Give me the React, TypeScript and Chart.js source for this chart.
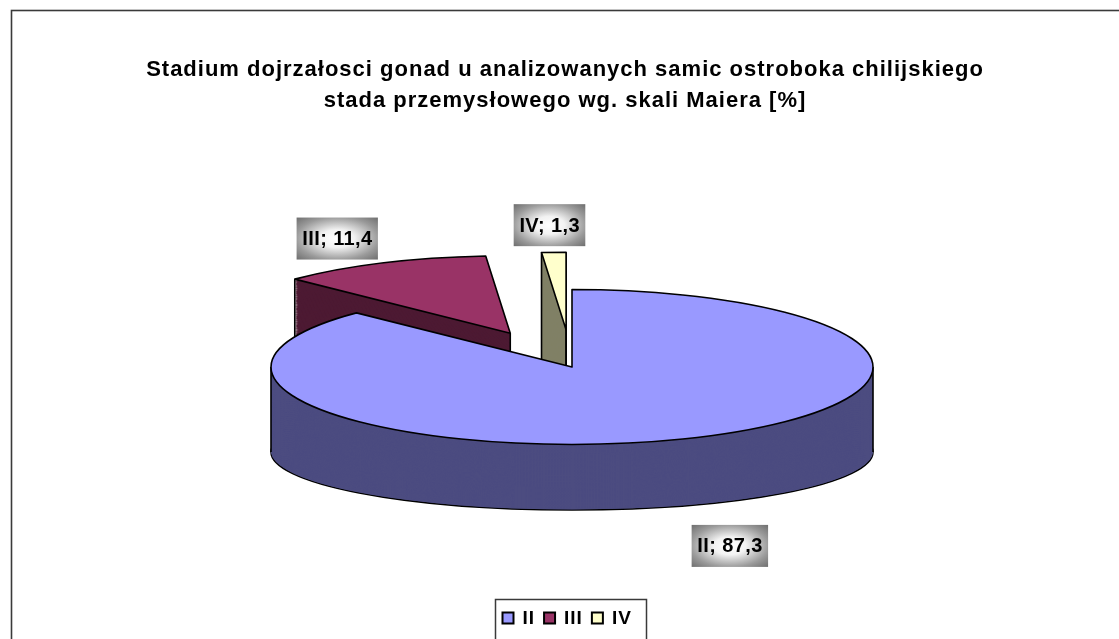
import React, { useEffect, useRef } from "react";
import { Chart, registerables } from "chart.js";

Chart.register(...registerables);

// ---- data ----
const categories = ["II", "III", "IV"];
const values = [87.3, 11.4, 1.3];
const titleLines = [
  "Stadium dojrzałosci gonad u analizowanych samic ostroboka chilijskiego",
  "stada przemysłowego wg. skali Maiera [%]",
];
const topColors = ["#9999FF", "#993366", "#FFFFCC"];
const sideColors = ["#4C4C80", "#4D1A33", "#808066"];

const FONT = "'Liberation Sans', Arial, Helvetica, sans-serif";

// ---- 3D look (view settings, not data) ----
const view = {
  cx: 572,
  cy: 367,
  ry: 77.5,
  depthShift: 85,
  ryBottom: 58,
  explode: [0, 145, 145],
  labelFactor: 1.35,
  lowerLabelExtra: 17,
  layers: 120,
};

const fmt = (v: number) => String(v).replace(".", ",");

const pie3d = {
  id: "pie3d",
  beforeDraw(chart: any) {
    (chart.ctx as any).letterSpacing = "1px";
  },
  beforeDatasetsDraw(chart: any) {
    const ctx: CanvasRenderingContext2D = chart.ctx;
    (ctx as any).letterSpacing = "0px";
    const arcs: any[] = chart.getDatasetMeta(0).data;
    const g = view;
    const r0 = arcs[0].outerRadius;
    const kTop = g.ry / r0;
    const kBot = g.ryBottom / r0;
    const lt = (t: number) => ({ cy: g.cy + g.depthShift * t, k: kTop + (kBot - kTop) * t });
    const exOff = (i: number) => {
      const a = arcs[i];
      const h = (a.startAngle + a.endAngle) / 2;
      return [Math.cos(h) * g.explode[i], Math.sin(h) * g.explode[i]];
    };
    const apply = (i: number, t: number) => {
      const { cy, k } = lt(t);
      const [ox, oy] = exOff(i);
      const a = arcs[i];
      ctx.translate(g.cx, cy);
      ctx.scale(1, k);
      ctx.translate(ox - a.x, oy - a.y);
    };
    const drawGhost = (i: number, t: number, color: string) => {
      const a = arcs[i];
      const ghost = Object.create(a);
      ghost.options = { ...a.options, backgroundColor: color, borderWidth: 0, offset: 0, spacing: 0 };
      ctx.save();
      apply(i, t);
      ghost.draw(ctx);
      ctx.restore();
    };
    const outline = (i: number, t: number) => {
      const a = arcs[i];
      ctx.save();
      apply(i, t);
      ctx.beginPath();
      ctx.moveTo(a.x, a.y);
      ctx.arc(a.x, a.y, a.outerRadius, a.startAngle, a.endAngle);
      ctx.closePath();
      ctx.restore();
      ctx.save();
      ctx.lineWidth = 1.6;
      ctx.strokeStyle = "#000";
      ctx.lineJoin = "round";
      ctx.stroke();
      ctx.restore();
    };
    const pt = (i: number, t: number, px: number, py: number) => {
      const { cy, k } = lt(t);
      const [ox, oy] = exOff(i);
      return [g.cx + ox + px, cy + k * (oy + py)];
    };

    // side walls, from the bottom up
    for (let s = g.layers; s >= 1; s--) {
      const t = s / g.layers;
      for (let i = 0; i < arcs.length; i++) {
        drawGhost(i, t, sideColors[i]);
        if (s === g.layers) outline(i, t);
      }
    }
    // visible vertical edges
    ctx.save();
    ctx.strokeStyle = "#000";
    ctx.lineWidth = 1.6;
    const eps = 1e-6;
    for (let i = 0; i < arcs.length; i++) {
      const a = arcs[i];
      const r = a.outerRadius;
      const sA = a.startAngle;
      const eA = a.endAngle;
      const startFace = Math.cos(sA) < -eps;
      const endFace = Math.cos(eA) > -eps;
      const pts: number[][] = [];
      if (startFace || endFace) pts.push([0, 0]);
      if (startFace || Math.sin(sA) > eps) pts.push([Math.cos(sA) * r, Math.sin(sA) * r]);
      if (endFace || Math.sin(eA) > eps) pts.push([Math.cos(eA) * r, Math.sin(eA) * r]);
      for (let m = -4; m <= 4; m++) {
        const ang = m * Math.PI;
        if (ang > sA && ang < eA) pts.push([Math.cos(ang) * r, Math.sin(ang) * r]);
      }
      pts.forEach(([px, py]) => {
        const p0 = pt(i, 0, px, py);
        const p1 = pt(i, 1, px, py);
        ctx.beginPath();
        ctx.moveTo(p0[0], p0[1]);
        ctx.lineTo(p1[0], p1[1]);
        ctx.stroke();
      });
    }
    ctx.restore();
    // top faces, drawn by the library's arc elements
    for (let i = 0; i < arcs.length; i++) {
      ctx.save();
      apply(i, 0);
      arcs[i].draw(ctx);
      ctx.restore();
      outline(i, 0);
    }

    // label anchors
    const anchors: number[][] = [];
    for (let i = 0; i < arcs.length; i++) {
      const a = arcs[i];
      const h = (a.startAngle + a.endAngle) / 2;
      const rr = a.outerRadius * g.labelFactor;
      let [x, y] = pt(i, 0, Math.cos(h) * rr, Math.sin(h) * rr);
      if (Math.sin(h) > 0) y += g.depthShift + g.ryBottom - g.ry + g.lowerLabelExtra;
      anchors.push([x, y]);
    }
    chart.$anchors = anchors;
    return false;
  },
  afterDraw(chart: any) {
    const ctx: CanvasRenderingContext2D = chart.ctx;
    (ctx as any).letterSpacing = "0px";
    // outer frame
    ctx.save();
    ctx.strokeStyle = "#3A3A3A";
    ctx.lineWidth = 1.6;
    ctx.strokeRect(11.5, 10.5, 1400, 1000);
    ctx.restore();

    // data labels
    const anchors: number[][] = chart.$anchors || [];
    ctx.save();
    (ctx as any).letterSpacing = "0.4px";
    ctx.font = `bold 20px ${FONT}`;
    anchors.forEach(([cx, cy], i) => {
      const text = `${categories[i]}; ${fmt(values[i])}`;
      const w = ctx.measureText(text).width + 11;
      const h = 42;
      ctx.save();
      ctx.translate(cx, cy);
      ctx.scale(w / 2, h / 2);
      const grd = ctx.createRadialGradient(0, 0, 0, 0, 0, Math.SQRT2);
      grd.addColorStop(0, "#FFFFFF");
      grd.addColorStop(0.3, "#F2F2F2");
      grd.addColorStop(0.72, "#9A9A9A");
      grd.addColorStop(1, "#6E6E6E");
      ctx.fillStyle = grd;
      ctx.fillRect(-1, -1, 2, 2);
      ctx.restore();
      ctx.fillStyle = "#000";
      ctx.textAlign = "center";
      ctx.textBaseline = "middle";
      ctx.fillText(text, cx + 0.2, cy + 1);
    });
    ctx.restore();

    // legend
    ctx.save();
    (ctx as any).letterSpacing = "1px";
    ctx.font = `bold 19px ${FONT}`;
    const box = 11;
    const gapAfterBox = 9;
    const gapItems = 9;
    const left = 495;
    const right = 646;
    const top = 599.5;
    ctx.strokeStyle = "#3A3A3A";
    ctx.lineWidth = 1.5;
    ctx.strokeRect(left + 0.5, top, right - left, 80);
    let x = 502.5;
    const yMid = 618;
    categories.forEach((c, i) => {
      ctx.fillStyle = topColors[i];
      ctx.fillRect(x, yMid - box / 2, box, box);
      ctx.strokeStyle = "#000";
      ctx.lineWidth = 2;
      ctx.strokeRect(x, yMid - box / 2, box, box);
      ctx.fillStyle = "#000";
      ctx.textAlign = "left";
      ctx.textBaseline = "middle";
      const tx = x + box + gapAfterBox;
      ctx.fillText(c, tx, yMid + 1);
      x = tx + ctx.measureText(c).width + gapItems;
    });
    ctx.restore();
  },
};

export default function App() {
  const ref = useRef<HTMLCanvasElement | null>(null);
  useEffect(() => {
    if (!ref.current) return;
    const chart = new Chart(ref.current, {
      type: "pie",
      data: {
        labels: categories,
        datasets: [
          {
            data: values,
            backgroundColor: topColors,
            borderWidth: 0,
            clip: false,
          } as any,
        ],
      },
      options: {
        responsive: false,
        animation: false,
        events: [],
        radius: 301,
        rotation: 0,
        layout: { padding: { left: 11, right: 0, top: 0, bottom: 0 } },
        plugins: {
          legend: { display: false },
          tooltip: { enabled: false },
          title: {
            display: true,
            text: titleLines,
            color: "#000",
            font: { family: FONT, size: 22, weight: "bold", lineHeight: 1.42 },
            padding: { top: 54, bottom: 10 },
          },
        },
      } as any,
      plugins: [pie3d],
    });
    return () => chart.destroy();
  }, []);
  return (
    <div style={{ position: "fixed", left: 0, top: 0, width: 1119, height: 639, background: "#fff" }}>
      <canvas ref={ref} width={1119} height={639} style={{ display: "block" }} />
    </div>
  );
}
